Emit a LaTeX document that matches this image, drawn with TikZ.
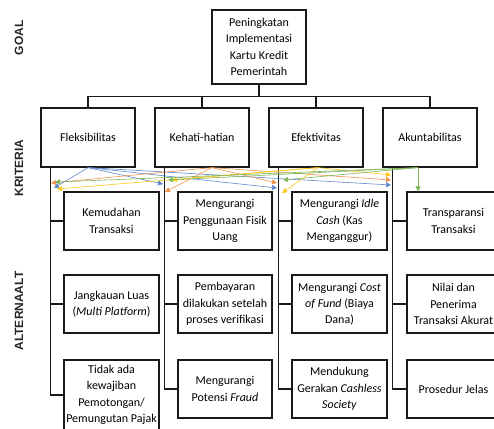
\documentclass[tikz,border=0pt]{standalone}
\usepackage{fontspec}
\setmainfont{Carlito}
\newfontfamily\labfont{Liberation Sans}
\usetikzlibrary{arrows.meta}
\definecolor{cblue}{HTML}{4472C4}
\definecolor{corange}{HTML}{ED7D31}
\definecolor{cyellow}{HTML}{FFC000}
\definecolor{cgreen}{HTML}{70AD47}
\definecolor{linec}{HTML}{1A1A1A}
\tikzset{
  box/.style={draw=linec, line width=1.2pt, align=center, inner sep=1pt,
    font=\fontsize{12}{16.3}\selectfont, text=black},
  crit/.style={box, minimum width=94pt, minimum height=59pt},
  alt/.style={box, minimum width=95pt, minimum height=58pt},
  lab/.style={rotate=90, font=\labfont\bfseries\fontsize{12}{14}\selectfont, text=black!85},
  conn/.style={draw=linec, line width=1.3pt},
  arr/.style={line width=0.6pt, -{Triangle[length=5pt,width=5pt]}},
}
\begin{document}
\begin{tikzpicture}[x=1pt,y=-1pt]
\clip (0,0) rectangle (494,428);
% labels
\node[lab] (lgoal) at (19,38) {GOAL};
\node[lab] (lkrit) at (19,168) {KRITERIA};
\node[lab] (lalt) at (19,311) {ALTERNAALT};
% goal
\node[box, minimum width=94pt, minimum height=74pt] (goal) at (259,47)
  {Peningkatan\\Implementasi\\Kartu Kredit\\Pemerintah};
% criteria
\node[crit] (fleks) at (88,137.5) {Fleksibilitas};
\node[crit] (keha) at (202,137.5) {Kehati-hatian};
\node[crit] (efek) at (316,137.5) {Efektivitas};
\node[crit] (akun) at (430,137.5) {Akuntabilitas};
% goal connectors
\draw[conn] (goal.south) -- ++(0,12) coordinate (hub);
\foreach \n in {fleks,keha,efek,akun} \draw[conn] (hub) -| (\n.north);
% alternatives column 1
\node[alt] (a11) at (111.5,221) {Kemudahan\\Transaksi};
\node[alt] (a12) at (111.5,304) {Jangkauan Luas\\(\textit{Multi Platform})};
\node[alt, minimum height=70pt] (a13) at (111.5,395) {Tidak ada\\kewajiban\\Pemotongan/\\Pemungutan Pajak};
% column 2
\node[alt, minimum width=94pt] (a21) at (225,221) {Mengurangi\\Penggunaan Fisik\\Uang};
\node[alt, minimum width=94pt] (a22) at (225,304) {Pembayaran\\dilakukan setelah\\proses verifikasi};
\node[alt, minimum width=94pt] (a23) at (225,389) {Mengurangi\\Potensi \textit{Fraud}};
% column 3
\node[alt] (a31) at (339.5,221) {Mengurangi \textit{Idle}\\\textit{Cash} (Kas\\Menganggur)};
\node[alt] (a32) at (339.5,304) {Mengurangi \textit{Cost}\\\textit{of Fund} (Biaya\\Dana)};
\node[alt] (a33) at (339.5,389) {Mendukung\\Gerakan \textit{Cashless}\\\textit{Society}};
% column 4
\node[alt, minimum width=93pt] (a41) at (453.5,221) {Transparansi\\Transaksi};
\node[alt, minimum width=93pt] (a42) at (453.5,304) {Nilai dan\\Penerima\\Transaksi Akurat};
\node[alt, minimum width=93pt] (a43) at (453.5,389) {Prosedur Jelas};
% tree connectors
\foreach \c/\k in {fleks/1,keha/2,efek/3,akun/4}{
  \draw[conn] ([xshift=10pt]\c.south west) |- (a\k3.west);
  \draw[conn] ([xshift=10pt]\c.south west) |- (a\k1.west);
  \draw[conn] ([xshift=10pt]\c.south west) |- (a\k2.west);
}
% arrow sources
\coordinate (sB) at (fleks.south);
\coordinate (sO) at ([xshift=10pt]keha.south);
\coordinate (sY) at ([xshift=2pt]efek.south);
\coordinate (sG) at ([xshift=-12pt]akun.south);
% arrow targets
\coordinate (b1) at (54,188); \coordinate (b2) at (163,184); \coordinate (b3) at (277,188); \coordinate (b4) at (391,185);
\coordinate (o1) at (51,183); \coordinate (o2) at (165,192); \coordinate (o3) at (277,183); \coordinate (o4) at (391,180);
\coordinate (y1) at (57,189); \coordinate (y2) at (172,180); \coordinate (y3) at (282,193); \coordinate (y4) at (391,175);
\coordinate (g1) at (55,182); \coordinate (g2) at (168,180); \coordinate (g3) at (283,180);
\foreach \t in {1,2,3,4} \draw[arr, cblue!85] (sB) -- (b\t);
\foreach \t in {1,2,3,4} \draw[arr, corange!85] (sO) -- (o\t);
\foreach \t in {1,2,3,4} \draw[arr, cyellow!90] (sY) -- (y\t);
\foreach \t in {1,2,3} \draw[arr, cgreen!90] (sG) -- (g\t);
\draw[arr, cgreen!90] (sG) -- (sG |- a41.north);
\end{tikzpicture}
\end{document}
